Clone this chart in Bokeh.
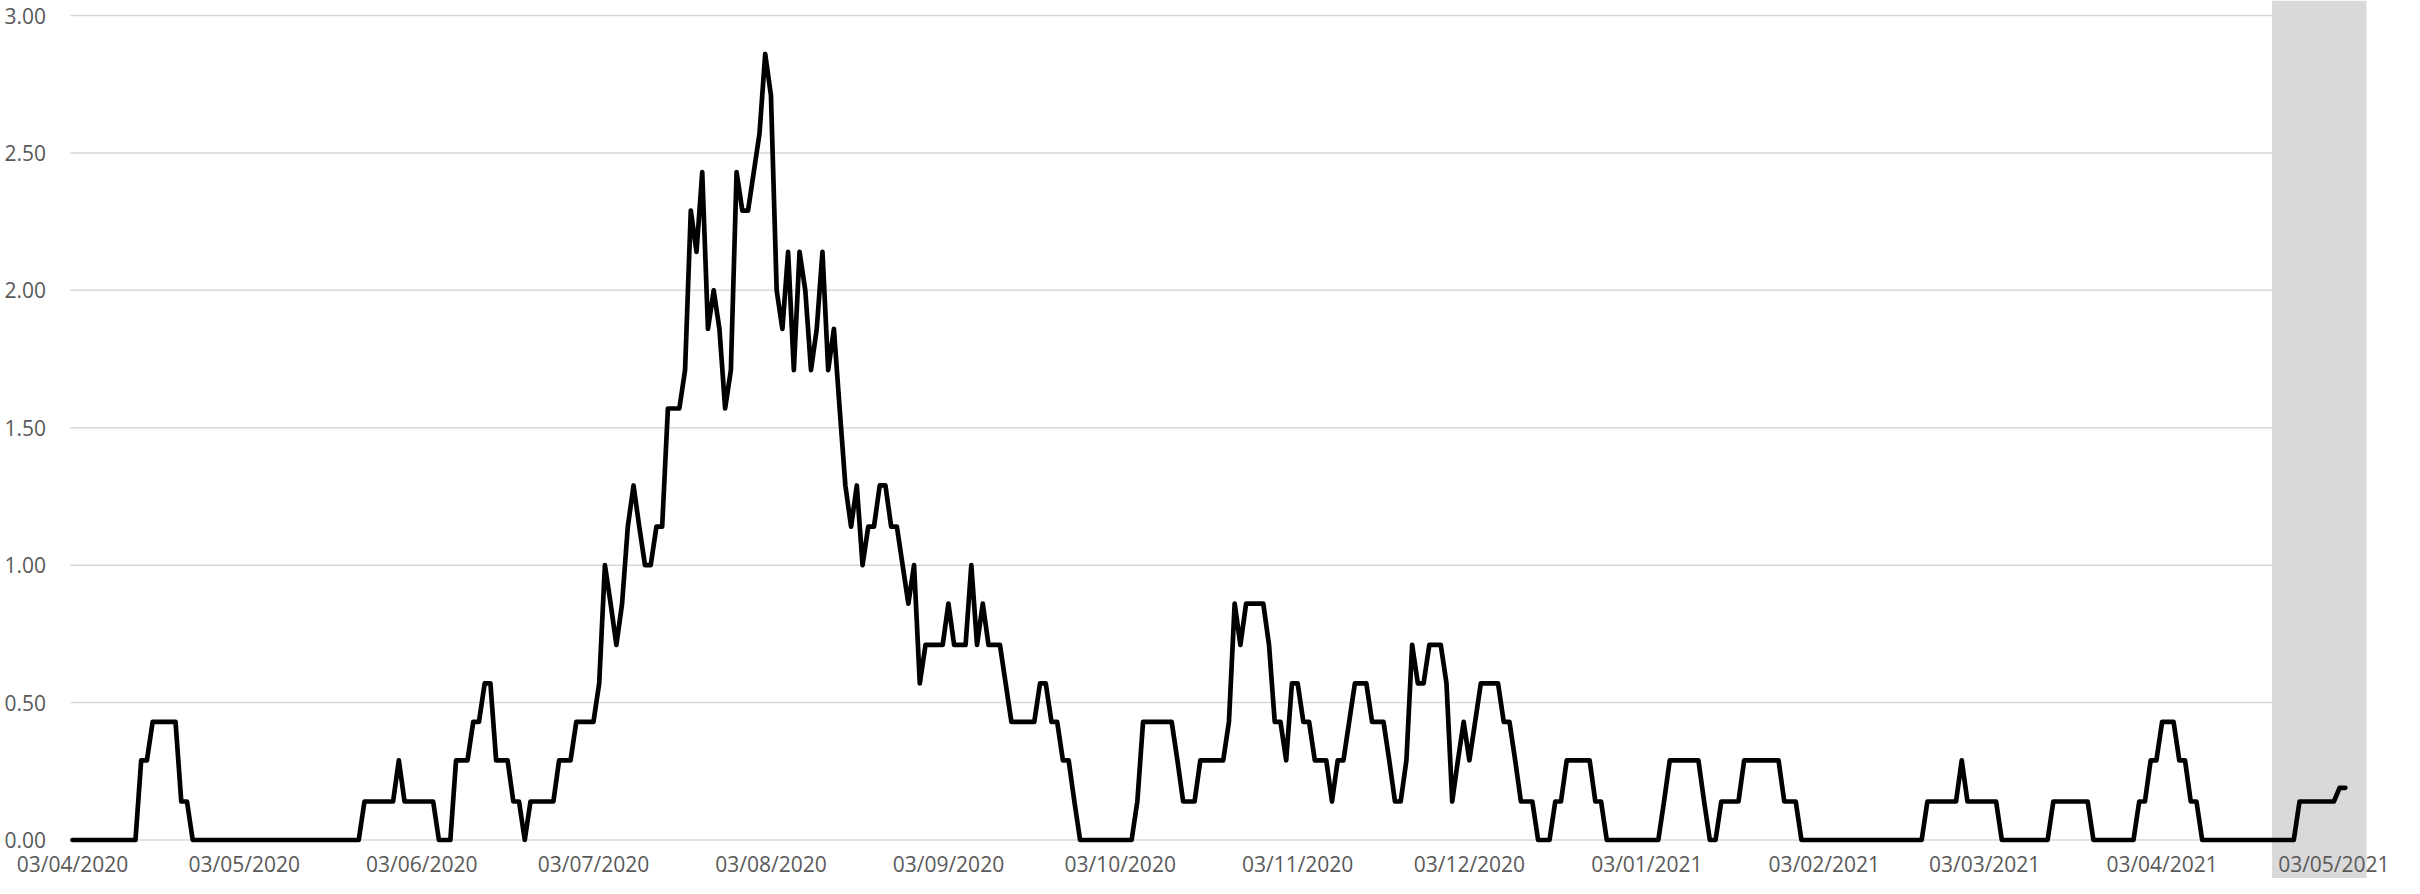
import pandas as pd
from bokeh.plotting import figure
from bokeh.models import Range1d, ColumnDataSource
from bokeh.core.properties import value
from bokeh.embed import file_html
from bokeh.resources import INLINE

# ---------------- data ----------------
start_date = "2020-04-03"
values = [
    0, 0, 0, 0, 0, 0, 0, 0, 0, 0,
    0, 0, 0.29, 0.29, 0.43, 0.43, 0.43, 0.43, 0.43, 0.14,
    0.14, 0, 0, 0, 0, 0, 0, 0, 0, 0,
    0, 0, 0, 0, 0, 0, 0, 0, 0, 0,
    0, 0, 0, 0, 0, 0, 0, 0, 0, 0,
    0, 0.14, 0.14, 0.14, 0.14, 0.14, 0.14, 0.29, 0.14, 0.14,
    0.14, 0.14, 0.14, 0.14, 0, 0, 0, 0.29, 0.29, 0.29,
    0.43, 0.43, 0.57, 0.57, 0.29, 0.29, 0.29, 0.14, 0.14, 0,
    0.14, 0.14, 0.14, 0.14, 0.14, 0.29, 0.29, 0.29, 0.43, 0.43,
    0.43, 0.43, 0.57, 1.00, 0.86, 0.71, 0.86, 1.14, 1.29, 1.14,
    1.00, 1.00, 1.14, 1.14, 1.57, 1.57, 1.57, 1.71, 2.29, 2.14,
    2.43, 1.86, 2.00, 1.86, 1.57, 1.71, 2.43, 2.29, 2.29, 2.43,
    2.57, 2.86, 2.71, 2.00, 1.86, 2.14, 1.71, 2.14, 2.00, 1.71,
    1.86, 2.14, 1.71, 1.86, 1.57, 1.29, 1.14, 1.29, 1.00, 1.14,
    1.14, 1.29, 1.29, 1.14, 1.14, 1.00, 0.86, 1.00, 0.57, 0.71,
    0.71, 0.71, 0.71, 0.86, 0.71, 0.71, 0.71, 1.00, 0.71, 0.86,
    0.71, 0.71, 0.71, 0.57, 0.43, 0.43, 0.43, 0.43, 0.43, 0.57,
    0.57, 0.43, 0.43, 0.29, 0.29, 0.14, 0, 0, 0, 0,
    0, 0, 0, 0, 0, 0, 0.14, 0.43, 0.43, 0.43,
    0.43, 0.43, 0.43, 0.29, 0.14, 0.14, 0.14, 0.29, 0.29, 0.29,
    0.29, 0.29, 0.43, 0.86, 0.71, 0.86, 0.86, 0.86, 0.86, 0.71,
    0.43, 0.43, 0.29, 0.57, 0.57, 0.43, 0.43, 0.29, 0.29, 0.29,
    0.14, 0.29, 0.29, 0.43, 0.57, 0.57, 0.57, 0.43, 0.43, 0.43,
    0.29, 0.14, 0.14, 0.29, 0.71, 0.57, 0.57, 0.71, 0.71, 0.71,
    0.57, 0.14, 0.29, 0.43, 0.29, 0.43, 0.57, 0.57, 0.57, 0.57,
    0.43, 0.43, 0.29, 0.14, 0.14, 0.14, 0, 0, 0, 0.14,
    0.14, 0.29, 0.29, 0.29, 0.29, 0.29, 0.14, 0.14, 0, 0,
    0, 0, 0, 0, 0, 0, 0, 0, 0.14, 0.29,
    0.29, 0.29, 0.29, 0.29, 0.29, 0.14, 0, 0, 0.14, 0.14,
    0.14, 0.14, 0.29, 0.29, 0.29, 0.29, 0.29, 0.29, 0.29, 0.14,
    0.14, 0.14, 0, 0, 0, 0, 0, 0, 0, 0,
    0, 0, 0, 0, 0, 0, 0, 0, 0, 0,
    0, 0, 0, 0, 0.14, 0.14, 0.14, 0.14, 0.14, 0.14,
    0.29, 0.14, 0.14, 0.14, 0.14, 0.14, 0.14, 0, 0, 0,
    0, 0, 0, 0, 0, 0, 0.14, 0.14, 0.14, 0.14,
    0.14, 0.14, 0.14, 0, 0, 0, 0, 0, 0, 0,
    0, 0.14, 0.14, 0.29, 0.29, 0.43, 0.43, 0.43, 0.29, 0.29,
    0.14, 0.14, 0, 0, 0, 0, 0, 0, 0, 0,
    0, 0, 0, 0, 0, 0, 0, 0, 0, 0.14,
    0.14, 0.14, 0.14, 0.14, 0.14, 0.14, 0.19, 0.19,
]
tick_dates = ["2020-04-03", "2020-05-03", "2020-06-03", "2020-07-03",
              "2020-08-03", "2020-09-03", "2020-10-03", "2020-11-03",
              "2020-12-03", "2021-01-03", "2021-02-03", "2021-03-03",
              "2021-04-03", "2021-05-03"]
y_ticks = [0, 0.5, 1.0, 1.5, 2.0, 2.5, 3.0]
y_tick_labels = ["0.00", "0.50", "1.00", "1.50", "2.00", "2.50", "3.00"]
shade_start = "2021-04-22 05:00"
plot_start = "2020-04-02 14:24"
plot_end = "2021-05-08 16:48"

# ---------------- layout constants (canvas pixels) ----------------
W, H = 2404, 878
LEFT_PX, RIGHT_PX = 69.7, 2366.0     # plot-area edges
TOP_PX, ZERO_PX = 15.0, 839.5        # rows of y=3 and y=0
YLAB_PX = 45.5                       # right edge of y labels
XLAB_PX = 863.0                      # row of x labels
FONT = value("Open Sans")
GREY_TXT = "#595959"
GREY = "#d9d9d9"

def ms(s):
    return pd.Timestamp(s).value / 1e6

mpp = (ms(plot_end) - ms(plot_start)) / (RIGHT_PX - LEFT_PX)   # ms per px
x0 = ms(plot_start) - LEFT_PX * mpp
x1 = ms(plot_start) + (W - LEFT_PX) * mpp
k = (ZERO_PX - TOP_PX) / 3.0
y0 = -(H - ZERO_PX) / k
y1 = 3.0 + TOP_PX / k

p = figure(width=W, height=H, output_backend="svg", toolbar_location=None,
           x_axis_type="datetime", x_range=Range1d(x0, x1),
           y_range=Range1d(y0, y1),
           min_border_left=0, min_border_right=0, min_border_top=0,
           min_border_bottom=0)
p.outline_line_color = None
p.background_fill_color = "white"
p.border_fill_color = "white"
p.xaxis.visible = False
p.yaxis.visible = False
p.xgrid.visible = False
p.ygrid.visible = False

# horizontal gridlines
p.segment(x0=[ms(plot_start)] * len(y_ticks), y0=y_ticks,
          x1=[ms(plot_end)] * len(y_ticks), y1=y_ticks,
          line_color=GREY, line_width=1.5)

# shaded period, full height
p.quad(left=[ms(shade_start)], right=[ms(plot_end)], bottom=[y0], top=[y1],
       fill_color=GREY, line_color=None)

# series
dates = pd.date_range(start_date, periods=len(values), freq="D")
src = ColumnDataSource(dict(x=dates, y=values))
p.line("x", "y", source=src, line_color="black", line_width=4.7,
       line_join="round", line_cap="round")

# x tick labels
xl = ColumnDataSource(dict(
    x=pd.to_datetime(tick_dates),
    y=[-(XLAB_PX - ZERO_PX) / k] * len(tick_dates),
    t=[pd.Timestamp(d).strftime("%d/%m/%Y") for d in tick_dates]))
p.text("x", "y", text="t", source=xl, text_font=FONT, text_font_size="21px",
       text_color=GREY_TXT, text_align="center", text_baseline="middle")

# y tick labels
yl = ColumnDataSource(dict(
    x=[ms(plot_start) + (YLAB_PX - LEFT_PX) * mpp] * len(y_ticks),
    y=y_ticks, t=y_tick_labels))
p.text("x", "y", text="t", source=yl, text_font=FONT, text_font_size="21px",
       text_color=GREY_TXT, text_align="right", text_baseline="middle")

open("out.html", "w").write(file_html(p, INLINE))
